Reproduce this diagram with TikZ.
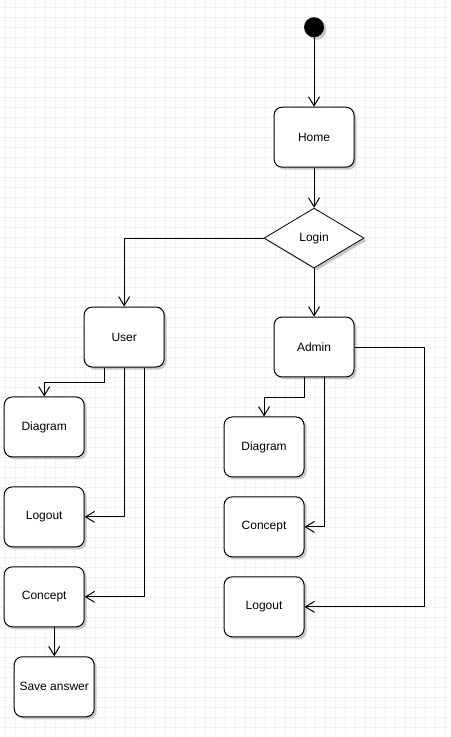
\documentclass[tikz,border=0pt]{standalone}
\usepackage{fontspec}
\setmainfont{Liberation Sans}
\usepackage{tikz}
\usetikzlibrary{shapes.geometric, arrows.meta, positioning, shadows}

\begin{document}
\begin{tikzpicture}[
    x=1pt, y=-1pt,
    font=\fontsize{12}{14}\selectfont,
    gridline/.style={draw=black!5, line width=0.5pt},
    shade/.style={drop shadow={shadow xshift=2.5pt, shadow yshift=-2.5pt, fill=black!22, opacity=1}},
    state/.style={rectangle, draw=black, fill=white, rounded corners=8pt, line width=1pt, minimum width=80pt, minimum height=60pt, align=center, shade},
    decide/.style={diamond, draw=black, fill=white, line width=0.8pt, minimum width=100pt, minimum height=60pt, inner sep=0pt, shade},
    start/.style={circle, fill=black, minimum size=20pt, inner sep=0pt, shade},
    flow/.style={-{Straight Barb[length=9pt, width=11pt]}, line width=1pt},
]

% Background grid
\fill[white] (0,0) rectangle (450,737);
\foreach \gx in {5,15,...,445} \draw[gridline] (\gx,0) -- (\gx,737);
\foreach \gy in {7,17,...,737} \draw[gridline] (0,\gy) -- (450,\gy);
\useasboundingbox (0,0) rectangle (450,737);

% Top
\node[start] (init) at (314,27) {};
\node[state] (home) at (314,137) {Home};
\node[decide] (login) at (314,238) {Login};

% Roles
\node[state] (user) at (124,337) {User};
\node[state] (admin) at (314,347) {Admin};

% User actions
\node[state] (udiag) at (44,427) {Diagram};
\node[state] (ulogout) at (44,517) {Logout};
\node[state] (uconcept) at (44,597) {Concept};
\node[state] (save) at (54,687) {Save answer};

% Admin actions
\node[state] (adiag) at (264,447) {Diagram};
\node[state] (aconcept) at (264,527) {Concept};
\node[state] (alogout) at (264,607) {Logout};

% Edges
\draw[flow] (init) -- (home);
\draw[flow] (home) -- (login);
\draw[flow] (login.west) -| (user.north);
\draw[flow] (login.south) -- (admin.north);

\draw[flow] ([xshift=-20pt]user.south) -- ++(0,15) -| (udiag.north);
\draw[flow] (user.south) |- (ulogout.east);
\draw[flow] ([xshift=20pt]user.south) |- (uconcept.east);
\draw[flow] ([xshift=10pt]uconcept.south) -- (save.north);

\draw[flow] ([xshift=-10pt]admin.south) -- ++(0,20) -| (adiag.north);
\draw[flow] ([xshift=10pt]admin.south) |- (aconcept.east);
\draw[flow] (admin.east) -- ++(70,0) |- (alogout.east);

\end{tikzpicture}
\end{document}
